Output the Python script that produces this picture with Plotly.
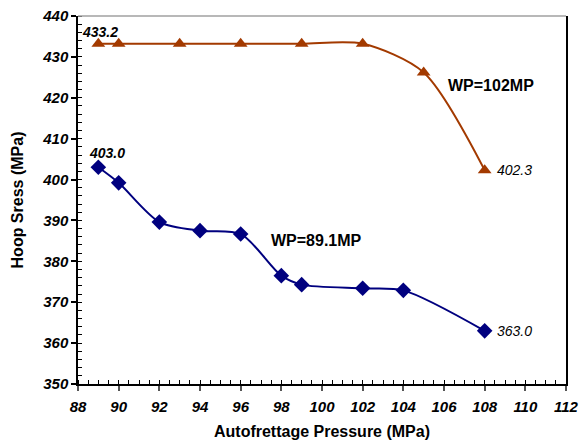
import plotly.graph_objects as go

# Data
x_wp891 = [89, 90, 92, 94, 96, 98, 99, 102, 104, 108]
y_wp891 = [403.0, 399.2, 389.6, 387.5, 386.7, 376.5, 374.3, 373.4, 372.9, 363.0]

x_wp102 = [89, 90, 93, 96, 99, 102, 105, 108]
y_wp102 = [433.2, 433.2, 433.2, 433.2, 433.2, 433.2, 426.2, 402.3]

x_ticks = list(range(88, 113, 2))
y_ticks = list(range(350, 441, 10))

RED = "#A33A00"
BLUE = "#00007F"
FONT = "Liberation Sans, Arial, sans-serif"

fig = go.Figure()
fig.add_trace(go.Scatter(
    x=x_wp102, y=y_wp102, mode="lines+markers",
    line=dict(color=RED, width=2, shape="spline", smoothing=0.8),
    marker=dict(symbol="triangle-up", size=12, color=RED),
    name="WP=102MP", showlegend=False, cliponaxis=False))
fig.add_trace(go.Scatter(
    x=x_wp891, y=y_wp891, mode="lines+markers",
    line=dict(color=BLUE, width=2, shape="spline", smoothing=0.8),
    marker=dict(symbol="diamond", size=12, color=BLUE),
    name="WP=89.1MP", showlegend=False, cliponaxis=False))

ann = []
# value labels
ann.append(dict(x=x_wp102[0], y=y_wp102[0], text="%.1f" % y_wp102[0], showarrow=False,
                xshift=2, yshift=12, font=dict(family=FONT, size=14, color="black")))
ann.append(dict(x=x_wp891[0], y=y_wp891[0], text="%.1f" % y_wp891[0], showarrow=False,
                xshift=9, yshift=14, font=dict(family=FONT, size=14, color="black")))
ann.append(dict(x=x_wp102[-1], y=y_wp102[-1], text="%.1f" % y_wp102[-1], showarrow=False,
                xanchor="left", xshift=10, font=dict(family=FONT, size=14, color="black")))
ann.append(dict(x=x_wp891[-1], y=y_wp891[-1], text="%.1f" % y_wp891[-1], showarrow=False,
                xanchor="left", xshift=10, font=dict(family=FONT, size=14, color="black")))
for a in ann:
    a["text"] = "<i>" + a["text"] + "</i>"
ann[0]["text"] = "<b>" + ann[0]["text"] + "</b>"
ann[1]["text"] = "<b>" + ann[1]["text"] + "</b>"
# series labels
ann.append(dict(x=108.3, y=423.1, text="<b>WP=102MP</b>", showarrow=False,
                font=dict(family=FONT, size=16, color="black")))
ann.append(dict(x=99.75, y=385.2, text="<b>WP=89.1MP</b>", showarrow=False,
                font=dict(family=FONT, size=16, color="black")))

fig.update_layout(
    width=580, height=444,
    margin=dict(l=78, r=14, t=16, b=60, autoexpand=False),
    paper_bgcolor="white", plot_bgcolor="white",
    font=dict(family=FONT, color="black"),
    annotations=ann,
    shapes=[dict(type="line", xref="paper", yref="paper", x0=0, x1=1, y0=1, y1=1,
                 line=dict(color="#A0A0A0", width=1.5))],
)
fig.update_xaxes(
    range=[88, 112], tickvals=x_ticks, ticktext=["<i><b>%d</b></i>" % v for v in x_ticks],
    tickfont=dict(family=FONT, size=15, color="black"), automargin=False,
    ticklabelstandoff=3,
    showgrid=False, zeroline=False, showline=True, linecolor="black", linewidth=1.5,
    ticks="outside", ticklen=5, tickcolor="#555555", tickwidth=1.5,
    minor=dict(dtick=0.5, ticks="inside", ticklen=4, tickcolor="black", tickwidth=1, showgrid=False),
    title=dict(text="<b>Autofrettage Pressure (MPa)</b>", font=dict(family=FONT, size=16, color="black"), standoff=12),
)
fig.update_yaxes(
    range=[350, 440], tickvals=y_ticks, ticktext=["<i><b>%d</b></i>" % v for v in y_ticks],
    tickfont=dict(family=FONT, size=15, color="black"), automargin=False,
    showgrid=False, zeroline=False, showline=True, linecolor="black", linewidth=1.5, mirror=True,
    ticks="outside", ticklen=5, tickcolor="black", tickwidth=1.5,
    minor=dict(dtick=2, ticks="inside", ticklen=4, tickcolor="black", tickwidth=1, showgrid=False),
    title=dict(text="<b>Hoop Sress (MPa)</b>", font=dict(family=FONT, size=16, color="black"), standoff=15),
)

# remove the browser's default 8px body margin so the figure sits at the page origin
fig.write_html("out.html", config={"displayModeBar": False},
               post_script="document.body.style.margin='0';")
